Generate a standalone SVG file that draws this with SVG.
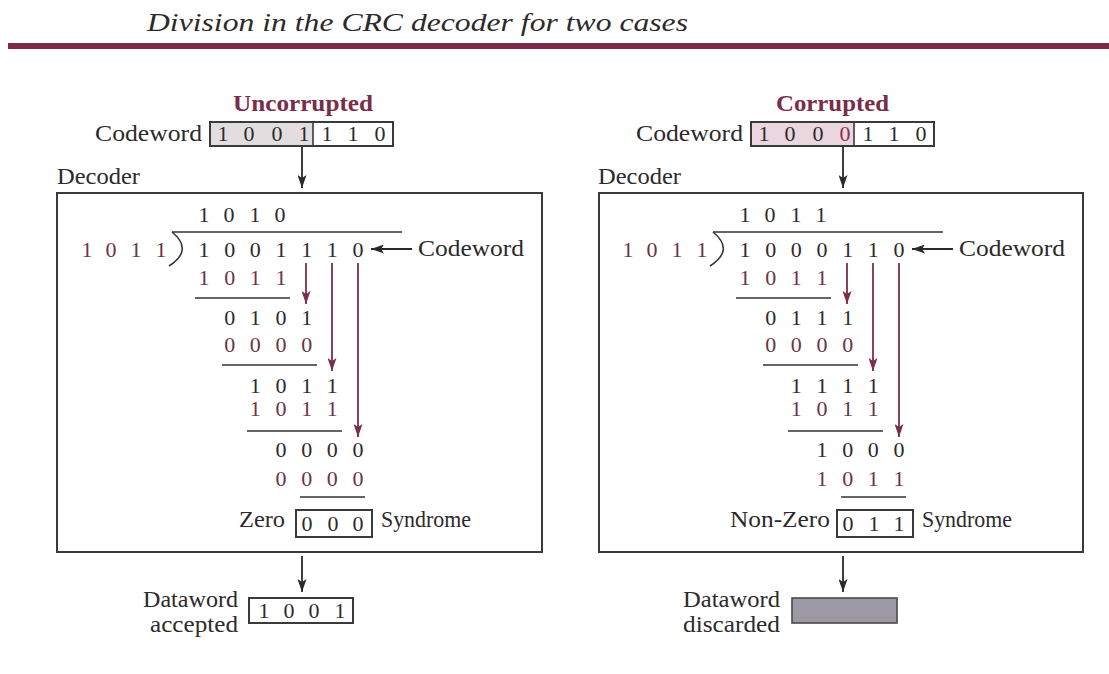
<svg xmlns="http://www.w3.org/2000/svg" width="1109" height="674" viewBox="0 0 1109 674" font-family="'Liberation Serif', 'Times New Roman', Times, serif">
<style>
text{font-family:'Liberation Serif','Times New Roman',Times,serif;fill:#2e2a2c}
.lbl{font-size:23px}
.d{font-size:22px;text-anchor:middle}
.s{fill:#6b3446}
.hd{font-size:23px;font-weight:bold;fill:#7a2d48}
.box{fill:none;stroke:#3a3a3a;stroke-width:2}
.ul{stroke:#333;stroke-width:1.6}
.blk{stroke:#2a2a2a;stroke-width:1.8;fill:none}
.mar{stroke:#7b2e4c;stroke-width:1.8;fill:none}
</style>
<defs>
<marker id="ab" markerUnits="userSpaceOnUse" markerWidth="13" markerHeight="9" refX="13" refY="4.5" orient="auto" viewBox="0 0 13 9"><path d="M0,0 L13,4.5 L0,9 L3,4.5 z" fill="#2a2a2a"/></marker>
<marker id="am" markerUnits="userSpaceOnUse" markerWidth="13" markerHeight="9" refX="13" refY="4.5" orient="auto" viewBox="0 0 13 9"><path d="M0,0 L13,4.5 L0,9 L3,4.5 z" fill="#7b2e4c"/></marker>
</defs>
<rect width="1109" height="674" fill="#fff"/>
<g id="title">
<text x="147" y="31" font-size="25" font-style="italic" textLength="541" lengthAdjust="spacingAndGlyphs">Division in the CRC decoder for two cases</text>
<rect x="8" y="43" width="1101" height="6" fill="#80284a"/>
</g>

<!-- LEFT -->
<g id="left-codeword">
<text class="hd" x="233" y="111" textLength="140" lengthAdjust="spacingAndGlyphs">Uncorrupted</text>
<text class="lbl" x="95" y="141" textLength="107" lengthAdjust="spacingAndGlyphs">Codeword</text>
<rect x="210" y="122" width="103" height="24" fill="#e2dee0"/>
<rect x="210" y="122" width="183" height="24" class="box" stroke-width="1.6"/>
<line x1="313" y1="122" x2="313" y2="146" stroke="#3a3a3a" stroke-width="1.6"/>
<text class="d" y="141"><tspan x="223">1</tspan><tspan x="249">0</tspan><tspan x="277">0</tspan><tspan x="304">1</tspan><tspan x="327">1</tspan><tspan x="353">1</tspan><tspan x="380">0</tspan></text>
</g>
<g id="left-decoder">
<text class="lbl" x="57" y="184" textLength="83" lengthAdjust="spacingAndGlyphs">Decoder</text>
<rect x="57" y="193" width="485" height="359" class="box"/>
<text class="d" y="222"><tspan x="204">1</tspan><tspan x="229">0</tspan><tspan x="255">1</tspan><tspan x="280">0</tspan></text>
<line x1="172" y1="232" x2="402" y2="232" class="ul"/>
<path d="M172,232 Q194,250 169,266" class="ul" fill="none"/>
<text class="d s" y="257"><tspan x="87">1</tspan><tspan x="111">0</tspan><tspan x="136">1</tspan><tspan x="161">1</tspan></text>
<text class="d" y="257"><tspan x="204">1</tspan><tspan x="229.7">0</tspan><tspan x="255.3">0</tspan><tspan x="281">1</tspan><tspan x="306.7">1</tspan><tspan x="332.3">1</tspan><tspan x="358">0</tspan></text>
<text class="lbl" x="418" y="256" textLength="106" lengthAdjust="spacingAndGlyphs">Codeword</text>
<text class="d s" y="285"><tspan x="204">1</tspan><tspan x="229.7">0</tspan><tspan x="255.3">1</tspan><tspan x="281">1</tspan></text>
<line x1="195" y1="298" x2="290" y2="298" class="ul"/>
<text class="d" y="325"><tspan x="229.7">0</tspan><tspan x="255.3">1</tspan><tspan x="281">0</tspan><tspan x="306.7">1</tspan></text>
<text class="d s" y="352"><tspan x="229.7">0</tspan><tspan x="255.3">0</tspan><tspan x="281">0</tspan><tspan x="306.7">0</tspan></text>
<line x1="222" y1="365" x2="317" y2="365" class="ul"/>
<text class="d" y="393"><tspan x="255.3">1</tspan><tspan x="281">0</tspan><tspan x="306.7">1</tspan><tspan x="332.3">1</tspan></text>
<text class="d s" y="416"><tspan x="255.3">1</tspan><tspan x="281">0</tspan><tspan x="306.7">1</tspan><tspan x="332.3">1</tspan></text>
<line x1="247" y1="431" x2="342" y2="431" class="ul"/>
<text class="d" y="457"><tspan x="281">0</tspan><tspan x="306.7">0</tspan><tspan x="332.3">0</tspan><tspan x="358">0</tspan></text>
<text class="d s" y="486"><tspan x="281">0</tspan><tspan x="306.7">0</tspan><tspan x="332.3">0</tspan><tspan x="358">0</tspan></text>
<line x1="300" y1="497" x2="365" y2="497" class="ul"/>
<text class="lbl" x="239" y="527" textLength="46" lengthAdjust="spacingAndGlyphs">Zero</text>
<rect x="296" y="510" width="76" height="27" class="box" stroke-width="1.6"/>
<text class="d" y="531"><tspan x="307">0</tspan><tspan x="333">0</tspan><tspan x="358">0</tspan></text>
<text class="lbl" x="381" y="527" textLength="90" lengthAdjust="spacingAndGlyphs">Syndrome</text>
</g>
<g id="left-result">
<text class="lbl" x="238" y="607" text-anchor="end" textLength="95" lengthAdjust="spacingAndGlyphs">Dataword</text>
<text class="lbl" x="238" y="632" text-anchor="end" textLength="88" lengthAdjust="spacingAndGlyphs">accepted</text>
<rect x="249" y="598" width="104" height="25" class="box" stroke-width="1.6"/>
<text class="d" y="618"><tspan x="264">1</tspan><tspan x="289">0</tspan><tspan x="314">0</tspan><tspan x="340">1</tspan></text>
</g>

<!-- RIGHT -->
<g id="right-codeword">
<text class="hd" x="776" y="111" textLength="113" lengthAdjust="spacingAndGlyphs">Corrupted</text>
<text class="lbl" x="636" y="141" textLength="107" lengthAdjust="spacingAndGlyphs">Codeword</text>
<rect x="751" y="122" width="103" height="24" fill="#ead6df"/>
<rect x="751" y="122" width="183" height="24" class="box" stroke-width="1.6"/>
<line x1="854" y1="122" x2="854" y2="146" stroke="#3a3a3a" stroke-width="1.6"/>
<text class="d" y="141"><tspan x="764">1</tspan><tspan x="790">0</tspan><tspan x="818">0</tspan><tspan x="845" fill="#8a3052">0</tspan><tspan x="868">1</tspan><tspan x="894">1</tspan><tspan x="921">0</tspan></text>
</g>
<g id="right-decoder">
<text class="lbl" x="598" y="184" textLength="83" lengthAdjust="spacingAndGlyphs">Decoder</text>
<rect x="599" y="193" width="484" height="359" class="box"/>
<text class="d" y="222"><tspan x="745">1</tspan><tspan x="770">0</tspan><tspan x="796">1</tspan><tspan x="821">1</tspan></text>
<line x1="713" y1="232" x2="943" y2="232" class="ul"/>
<path d="M713,232 Q735,250 710,266" class="ul" fill="none"/>
<text class="d s" y="257"><tspan x="628">1</tspan><tspan x="652">0</tspan><tspan x="677">1</tspan><tspan x="702">1</tspan></text>
<text class="d" y="257"><tspan x="745">1</tspan><tspan x="770.7">0</tspan><tspan x="796.3">0</tspan><tspan x="822">0</tspan><tspan x="847.7">1</tspan><tspan x="873.3">1</tspan><tspan x="899">0</tspan></text>
<text class="lbl" x="959" y="256" textLength="106" lengthAdjust="spacingAndGlyphs">Codeword</text>
<text class="d s" y="285"><tspan x="745">1</tspan><tspan x="770.7">0</tspan><tspan x="796.3">1</tspan><tspan x="822">1</tspan></text>
<line x1="736" y1="298" x2="831" y2="298" class="ul"/>
<text class="d" y="325"><tspan x="770.7">0</tspan><tspan x="796.3">1</tspan><tspan x="822">1</tspan><tspan x="847.7">1</tspan></text>
<text class="d s" y="352"><tspan x="770.7">0</tspan><tspan x="796.3">0</tspan><tspan x="822">0</tspan><tspan x="847.7">0</tspan></text>
<line x1="763" y1="365" x2="858" y2="365" class="ul"/>
<text class="d" y="393"><tspan x="796.3">1</tspan><tspan x="822">1</tspan><tspan x="847.7">1</tspan><tspan x="873.3">1</tspan></text>
<text class="d s" y="416"><tspan x="796.3">1</tspan><tspan x="822">0</tspan><tspan x="847.7">1</tspan><tspan x="873.3">1</tspan></text>
<line x1="788" y1="431" x2="883" y2="431" class="ul"/>
<text class="d" y="457"><tspan x="822">1</tspan><tspan x="847.7">0</tspan><tspan x="873.3">0</tspan><tspan x="899">0</tspan></text>
<text class="d s" y="486"><tspan x="822">1</tspan><tspan x="847.7">0</tspan><tspan x="873.3">1</tspan><tspan x="899">1</tspan></text>
<line x1="841" y1="497" x2="906" y2="497" class="ul"/>
<text class="lbl" x="730" y="527" textLength="100" lengthAdjust="spacingAndGlyphs">Non-Zero</text>
<rect x="837" y="510" width="76" height="27" class="box" stroke-width="1.6"/>
<text class="d" y="531"><tspan x="848">0</tspan><tspan x="874">1</tspan><tspan x="899">1</tspan></text>
<text class="lbl" x="922" y="527" textLength="90" lengthAdjust="spacingAndGlyphs">Syndrome</text>
</g>
<g id="right-result">
<text class="lbl" x="780" y="607" text-anchor="end" textLength="97" lengthAdjust="spacingAndGlyphs">Dataword</text>
<text class="lbl" x="780" y="632" text-anchor="end" textLength="97" lengthAdjust="spacingAndGlyphs">discarded</text>
<rect x="792" y="598" width="105" height="25" fill="#9d99a4" stroke="#4a4a4a" stroke-width="1.6"/>
</g>

<g id="connectors">
<line x1="302" y1="147" x2="302" y2="188" class="blk" marker-end="url(#ab)"/>
<line x1="843" y1="147" x2="843" y2="188" class="blk" marker-end="url(#ab)"/>
<line x1="302" y1="556" x2="302" y2="592" class="blk" marker-end="url(#ab)"/>
<line x1="843" y1="556" x2="843" y2="592" class="blk" marker-end="url(#ab)"/>
<line x1="412" y1="249" x2="371" y2="249" class="blk" marker-end="url(#ab)"/>
<line x1="953" y1="249" x2="912" y2="249" class="blk" marker-end="url(#ab)"/>
<line x1="306" y1="263" x2="306" y2="304" class="mar" marker-end="url(#am)"/>
<line x1="332" y1="263" x2="332" y2="371" class="mar" marker-end="url(#am)"/>
<line x1="358" y1="263" x2="358" y2="437" class="mar" marker-end="url(#am)"/>
<line x1="847" y1="263" x2="847" y2="304" class="mar" marker-end="url(#am)"/>
<line x1="873" y1="263" x2="873" y2="371" class="mar" marker-end="url(#am)"/>
<line x1="899" y1="263" x2="899" y2="437" class="mar" marker-end="url(#am)"/>
</g>
</svg>
